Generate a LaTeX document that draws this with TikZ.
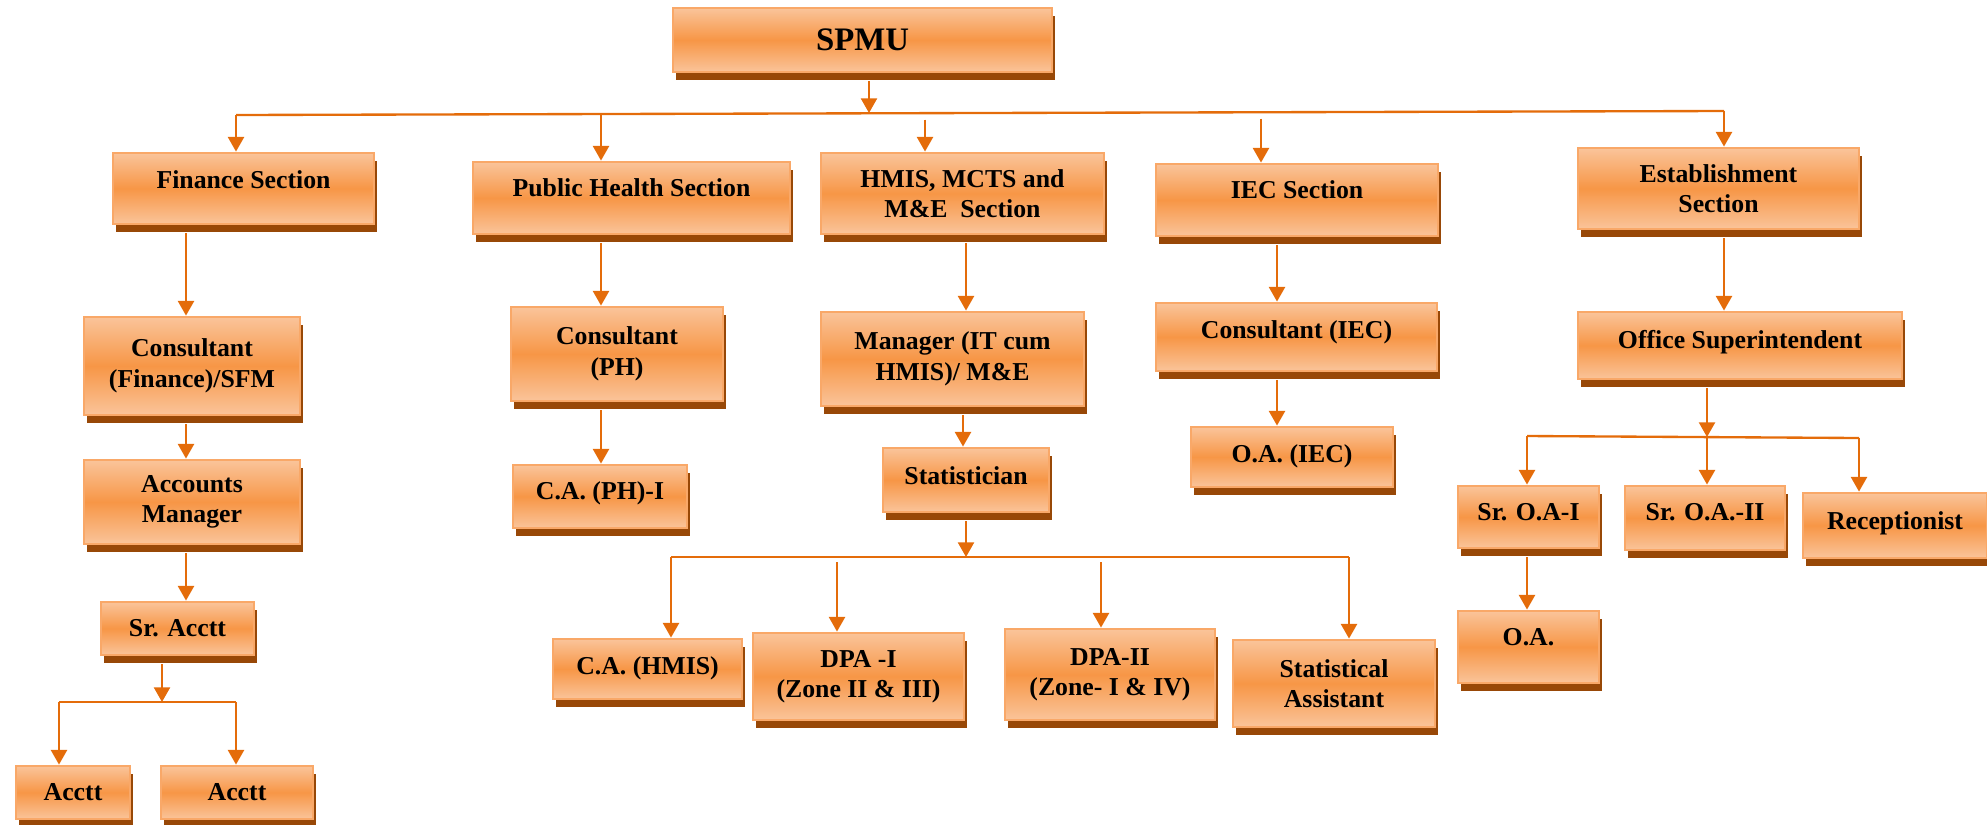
\documentclass[tikz,border=0pt]{standalone}
\usepackage{fontspec}
\setmainfont{Liberation Serif}
\usetikzlibrary{arrows.meta,shadows}

\definecolor{boxlight}{HTML}{FAC49A}
\definecolor{boxmid}{HTML}{F79646}
\definecolor{boxedge}{HTML}{F9A868}
\definecolor{boxshade}{HTML}{984807}
\definecolor{linkcol}{HTML}{E46C0A}

\tikzset{
  box/.style={rectangle, draw=boxedge, line width=1.2pt,
    top color=boxlight, bottom color=boxlight, middle color=boxmid,
    drop shadow={shadow xshift=0.04cm, shadow yshift=-0.12cm, fill=boxshade, opacity=1},
    inner sep=0pt, align=center, font=\fontsize{11}{13}\selectfont\bfseries},
  lift/.style={text height=8.3pt},
  bus/.style={draw=linkcol, line width=1pt},
  drop/.style={bus, -{Triangle[length=0.22cm, width=0.24cm]}},
  link/.style={drop, shorten <=0.12cm}
}

\begin{document}
\begin{tikzpicture}[x=0.015cm, y=-0.015cm]
\useasboundingbox (0,0) rectangle (1987,824);

% top
\node[box, minimum width=5.685cm, minimum height=0.96cm, font=\fontsize{14}{16}\selectfont\bfseries] (spmu) at (862.5,40) {SPMU};

% sections
\node[box, minimum width=3.915cm, minimum height=1.065cm, lift, text depth=8pt] (fin) at (243.5,188.5) {Finance Section};
\node[box, minimum width=4.755cm, minimum height=1.08cm, lift, text depth=9.7pt] (ph) at (631.5,198) {Public Health Section};
\node[box, minimum width=4.245cm, minimum height=1.215cm] (hmis) at (962.5,193.5) {HMIS, MCTS and\\M\&E\ \ Section};
\node[box, minimum width=4.23cm, minimum height=1.08cm, lift, text depth=9.7pt] (iec) at (1297,200) {IEC Section};
\node[box, minimum width=4.215cm, minimum height=1.215cm] (est) at (1718.5,188.5) {Establishment\\Section};

% second row
\node[box, minimum width=3.24cm, minimum height=1.47cm] (cfin) at (192,366) {Consultant\\(Finance)/SFM};
\node[box, minimum width=3.18cm, minimum height=1.41cm] (cph) at (617,354) {Consultant\\(PH)};
\node[box, minimum width=3.945cm, minimum height=1.41cm] (mgr) at (952.5,359) {Manager (IT cum\\HMIS)/ M\&E};
\node[box, minimum width=4.215cm, minimum height=1.02cm, lift, text depth=7.2pt] (ciec) at (1296.5,337) {Consultant (IEC)};
\node[box, minimum width=4.86cm, minimum height=1.005cm, lift, text depth=5.5pt] (osup) at (1740,345.5) {Office Superintendent};

% finance staff
\node[box, minimum width=3.24cm, minimum height=1.26cm] (accm) at (192,502) {Accounts\\Manager};
\node[box, minimum width=2.295cm, minimum height=0.795cm] (sracc) at (177.5,628.5) {Sr. Acctt};
\node[box, minimum width=1.71cm, minimum height=0.795cm] (acc1) at (73,792.5) {Acctt};
\node[box, minimum width=2.28cm, minimum height=0.795cm] (acc2) at (237,792.5) {Acctt};

% public health and hmis staff
\node[box, minimum width=2.61cm, minimum height=0.945cm, lift, text depth=5.5pt] (caph) at (600,496.5) {C.A. (PH)-I};
\node[box, minimum width=2.49cm, minimum height=0.96cm, lift, text depth=4.6pt] (stat) at (966,480) {Statistician};
\node[box, minimum width=2.835cm, minimum height=0.9cm, lift, text depth=3.8pt] (cahmis) at (647.5,669) {C.A. (HMIS)};
\node[box, minimum width=3.165cm, minimum height=1.305cm] (dpa1) at (858.5,676.5) {DPA -I\\(Zone II \& III)};
\node[box, minimum width=3.15cm, minimum height=1.365cm] (dpa2) at (1110,674.5) {DPA-II\\(Zone- I \& IV)};
\node[box, minimum width=3.03cm, minimum height=1.305cm] (sta) at (1334,683.5) {Statistical\\Assistant};

% iec and establishment staff
\node[box, minimum width=3.03cm, minimum height=0.9cm, lift, text depth=3.8pt] (oaiec) at (1292,457) {O.A. (IEC)};
\node[box, minimum width=2.115cm, minimum height=0.93cm, lift, text depth=5.5pt] (sroa1) at (1528.5,517) {Sr. O.A-I};
\node[box, minimum width=2.4cm, minimum height=0.96cm, lift, text depth=6.3pt] (sroa2) at (1705,518) {Sr. O.A.-II};
\node[box, minimum width=2.76cm, minimum height=0.975cm, lift, text depth=4.6pt] (recep) at (1895,525.5) {Receptionist};
\node[box, minimum width=2.115cm, minimum height=1.08cm, lift, text depth=9.7pt] (oa) at (1528.5,647) {O.A.};

% bus lines
\coordinate (tl) at (236,115);  \coordinate (tr) at (1724,111);
\coordinate (sl) at (671,557);  \coordinate (sr) at (1349,557);
\coordinate (al) at (59,702);   \coordinate (ar) at (236,702);
\coordinate (ol) at (1527,436); \coordinate (or) at (1859,438);

\draw[bus] (tl) -- (tr);
\draw[bus] (sl) -- (sr);
\draw[bus] (al) -- (ar);
\draw[bus] (ol) -- (or);

% spmu to sections
\draw[link] (spmu.south -| 869,0) -- (869,113 -| 869,0);
\draw[drop] (tl) -- (tl |- fin.north);
\draw[drop] (601,114 -| 601,0) -- (ph.north -| 601,0);
\draw[drop, shorten <=0.1cm] (925,113 -| 925,0) -- (hmis.north -| 925,0);
\draw[drop, shorten <=0.1cm] (1261,112 -| 1261,0) -- (iec.north -| 1261,0);
\draw[drop] (tr) -- (tr |- est.north);

% finance
\draw[link] (fin.south -| 186,0) -- (cfin.north -| 186,0);
\draw[link] (cfin.south -| 186,0) -- (accm.north -| 186,0);
\draw[link] (accm.south -| 186,0) -- (sracc.north -| 186,0);
\draw[link] (sracc.south -| 162,0) -- (al -| 162,0);
\draw[drop] (al) -- (al |- acc1.north);
\draw[drop] (ar) -- (ar |- acc2.north);

% public health
\draw[link] (ph.south -| 601,0) -- (cph.north -| 601,0);
\draw[link] (cph.south -| 601,0) -- (caph.north -| 601,0);

% hmis
\draw[link] (hmis.south -| 966,0) -- (mgr.north -| 966,0);
\draw[link] (mgr.south -| 963,0) -- (stat.north -| 963,0);
\draw[link] (stat.south -| 966,0) -- (sl -| 966,0);
\draw[drop] (sl) -- (sl |- cahmis.north);
\draw[drop, shorten <=0.08cm] (sl -| 837,0) -- (dpa1.north -| 837,0);
\draw[drop, shorten <=0.08cm] (sl -| 1101,0) -- (dpa2.north -| 1101,0);
\draw[drop] (sr) -- (sr |- sta.north);

% iec
\draw[link] (iec.south -| 1277,0) -- (ciec.north -| 1277,0);
\draw[link] (ciec.south -| 1277,0) -- (oaiec.north -| 1277,0);

% establishment
\draw[link] (est.south -| tr) -- (osup.north -| tr);
\draw[link] (osup.south -| 1707,0) -- (1707,437 -| 1707,0);
\draw[drop] (ol) -- (ol |- sroa1.north);
\draw[drop] (1707,437 -| 1707,0) -- (sroa2.north -| 1707,0);
\draw[drop] (or) -- (or |- recep.north);
\draw[link] (sroa1.south -| ol) -- (oa.north -| ol);
\end{tikzpicture}
\end{document}
